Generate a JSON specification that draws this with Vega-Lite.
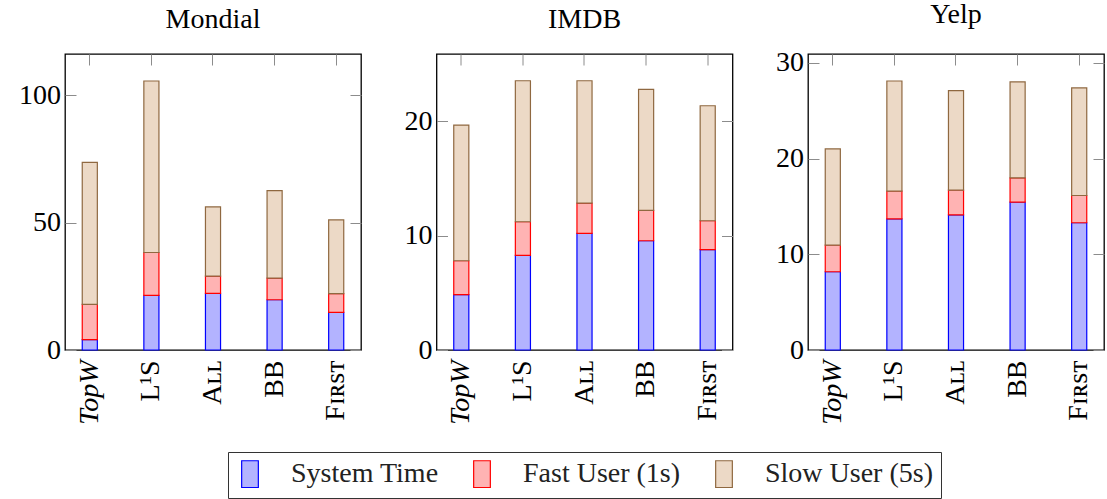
{
  "$schema": "https://vega.github.io/schema/vega-lite/v6.json",
  "padding": {"left": 17, "top": 0, "right": 2, "bottom": 0},
  "background": "white",
  "config": {
    "view": {"stroke": "black", "strokeWidth": 1.3},
    "font": "Liberation Serif",
    "axis": {"labelFont": "Liberation Serif", "labelFontSize": 28, "labelColor": "black", "title": null, "grid": false, "domain": false},
    "legend": {"labelFont": "Liberation Serif", "labelFontSize": 28, "labelColor": "#222", "labelLimit": 400}
  },
  "data": {"values": [
    {"db": "Mondial", "method": "TopW", "series": "System Time", "k": 1, "v": 4.05},
    {"db": "Mondial", "method": "TopW", "series": "Fast User (1s)", "k": 2, "v": 13.85},
    {"db": "Mondial", "method": "TopW", "series": "Slow User (5s)", "k": 3, "v": 55.7},
    {"db": "Mondial", "method": "L¹S", "series": "System Time", "k": 1, "v": 21.4},
    {"db": "Mondial", "method": "L¹S", "series": "Fast User (1s)", "k": 2, "v": 16.85},
    {"db": "Mondial", "method": "L¹S", "series": "Slow User (5s)", "k": 3, "v": 67.25},
    {"db": "Mondial", "method": "Aʟʟ", "series": "System Time", "k": 1, "v": 22.2},
    {"db": "Mondial", "method": "Aʟʟ", "series": "Fast User (1s)", "k": 2, "v": 6.8},
    {"db": "Mondial", "method": "Aʟʟ", "series": "Slow User (5s)", "k": 3, "v": 27.1},
    {"db": "Mondial", "method": "BB", "series": "System Time", "k": 1, "v": 19.7},
    {"db": "Mondial", "method": "BB", "series": "Fast User (1s)", "k": 2, "v": 8.5},
    {"db": "Mondial", "method": "BB", "series": "Slow User (5s)", "k": 3, "v": 34.3},
    {"db": "Mondial", "method": "Fɪʀsᴛ", "series": "System Time", "k": 1, "v": 14.75},
    {"db": "Mondial", "method": "Fɪʀsᴛ", "series": "Fast User (1s)", "k": 2, "v": 7.35},
    {"db": "Mondial", "method": "Fɪʀsᴛ", "series": "Slow User (5s)", "k": 3, "v": 28.9},
    {"db": "IMDB", "method": "TopW", "series": "System Time", "k": 1, "v": 4.84},
    {"db": "IMDB", "method": "TopW", "series": "Fast User (1s)", "k": 2, "v": 2.97},
    {"db": "IMDB", "method": "TopW", "series": "Slow User (5s)", "k": 3, "v": 11.87},
    {"db": "IMDB", "method": "L¹S", "series": "System Time", "k": 1, "v": 8.28},
    {"db": "IMDB", "method": "L¹S", "series": "Fast User (1s)", "k": 2, "v": 2.94},
    {"db": "IMDB", "method": "L¹S", "series": "Slow User (5s)", "k": 3, "v": 12.34},
    {"db": "IMDB", "method": "Aʟʟ", "series": "System Time", "k": 1, "v": 10.2},
    {"db": "IMDB", "method": "Aʟʟ", "series": "Fast User (1s)", "k": 2, "v": 2.66},
    {"db": "IMDB", "method": "Aʟʟ", "series": "Slow User (5s)", "k": 3, "v": 10.7},
    {"db": "IMDB", "method": "BB", "series": "System Time", "k": 1, "v": 9.56},
    {"db": "IMDB", "method": "BB", "series": "Fast User (1s)", "k": 2, "v": 2.66},
    {"db": "IMDB", "method": "BB", "series": "Slow User (5s)", "k": 3, "v": 10.58},
    {"db": "IMDB", "method": "Fɪʀsᴛ", "series": "System Time", "k": 1, "v": 8.78},
    {"db": "IMDB", "method": "Fɪʀsᴛ", "series": "Fast User (1s)", "k": 2, "v": 2.53},
    {"db": "IMDB", "method": "Fɪʀsᴛ", "series": "Slow User (5s)", "k": 3, "v": 10.06},
    {"db": "Yelp", "method": "TopW", "series": "System Time", "k": 1, "v": 8.18},
    {"db": "Yelp", "method": "TopW", "series": "Fast User (1s)", "k": 2, "v": 2.78},
    {"db": "Yelp", "method": "TopW", "series": "Slow User (5s)", "k": 3, "v": 10.06},
    {"db": "Yelp", "method": "L¹S", "series": "System Time", "k": 1, "v": 13.71},
    {"db": "Yelp", "method": "L¹S", "series": "Fast User (1s)", "k": 2, "v": 2.89},
    {"db": "Yelp", "method": "L¹S", "series": "Slow User (5s)", "k": 3, "v": 11.52},
    {"db": "Yelp", "method": "Aʟʟ", "series": "System Time", "k": 1, "v": 14.13},
    {"db": "Yelp", "method": "Aʟʟ", "series": "Fast User (1s)", "k": 2, "v": 2.58},
    {"db": "Yelp", "method": "Aʟʟ", "series": "Slow User (5s)", "k": 3, "v": 10.4},
    {"db": "Yelp", "method": "BB", "series": "System Time", "k": 1, "v": 15.45},
    {"db": "Yelp", "method": "BB", "series": "Fast User (1s)", "k": 2, "v": 2.55},
    {"db": "Yelp", "method": "BB", "series": "Slow User (5s)", "k": 3, "v": 10.02},
    {"db": "Yelp", "method": "Fɪʀsᴛ", "series": "System Time", "k": 1, "v": 13.3},
    {"db": "Yelp", "method": "Fɪʀsᴛ", "series": "Fast User (1s)", "k": 2, "v": 2.85},
    {"db": "Yelp", "method": "Fɪʀsᴛ", "series": "Slow User (5s)", "k": 3, "v": 11.24}
  ]},
  "hconcat": [
    {
      "title": {"text": "Mondial", "font": "Liberation Serif", "fontSize": 28, "fontWeight": "normal", "color": "black", "anchor": "middle", "frame": "group", "baseline": "alphabetic", "offset": -2.5},
      "width": 296, "height": 296,
      "transform": [{"filter": "datum.db === 'Mondial'"}],
      "resolve": {"axis": {"x": "independent", "y": "independent"}},
      "layer": [
        {
          "mark": {"type": "bar", "strokeWidth": 1.2},
          "encoding": {
            "x": {"field": "method", "type": "nominal", "sort": ["TopW", "L¹S", "Aʟʟ", "BB", "Fɪʀsᴛ"], "scale": {"paddingInner": 0.755, "paddingOuter": 0.28},
                  "axis": {"orient": "bottom", "ticks": false, "labelAngle": -90, "labelPadding": 10, "labelFontStyle": {"condition": {"test": "datum.value === 'TopW'", "value": "italic"}, "value": "normal"}}},
            "y": {"field": "v", "type": "quantitative", "stack": "zero", "scale": {"domain": [0, 116.1], "nice": false},
                  "axis": {"orient": "left", "values": [0, 50, 100], "tickSize": -11, "tickColor": "#8c8c8c", "tickWidth": 1, "labelPadding": 15.5}},
            "color": {"field": "series", "type": "nominal", "scale": {"domain": ["System Time", "Fast User (1s)", "Slow User (5s)"], "range": ["#b3b3ff", "#ffb3b3", "#ecd9c6"]},
                      "legend": {"orient": "none", "legendX": 163, "legendY": 398, "direction": "horizontal", "title": null, "strokeColor": "#333", "padding": 8, "columnPadding": 29, "labelOffset": 27, "symbolType": "M-0.625,-1H0.625V1H-0.625Z", "symbolSize": 713, "symbolStrokeWidth": 1.2}},
            "stroke": {"field": "series", "type": "nominal", "scale": {"domain": ["System Time", "Fast User (1s)", "Slow User (5s)"], "range": ["#0000ff", "#ff0000", "#8f6840"]}},
            "order": {"field": "k"}
          }
        },
        {
          "mark": {"type": "bar", "opacity": 0},
          "encoding": {
            "x": {"field": "method", "type": "nominal", "sort": ["TopW", "L¹S", "Aʟʟ", "BB", "Fɪʀsᴛ"],
                  "axis": {"orient": "top", "labels": false, "tickSize": -11, "tickColor": "#8c8c8c", "tickWidth": 1, "bandPosition": 0.5}},
            "y": {"field": "v", "type": "quantitative", "stack": "zero",
                  "axis": {"orient": "right", "labels": false, "values": [0, 50, 100], "tickSize": -11, "tickColor": "#8c8c8c", "tickWidth": 1}}
          }
        }
      ]
    },
    {
      "title": {"text": "IMDB", "font": "Liberation Serif", "fontSize": 28, "fontWeight": "normal", "color": "black", "anchor": "middle", "frame": "group", "baseline": "alphabetic", "offset": -2.5},
      "width": 296, "height": 296,
      "transform": [{"filter": "datum.db === 'IMDB'"}],
      "resolve": {"axis": {"x": "independent", "y": "independent"}},
      "layer": [
        {
          "mark": {"type": "bar", "strokeWidth": 1.2},
          "encoding": {
            "x": {"field": "method", "type": "nominal", "sort": ["TopW", "L¹S", "Aʟʟ", "BB", "Fɪʀsᴛ"], "scale": {"paddingInner": 0.755, "paddingOuter": 0.28},
                  "axis": {"orient": "bottom", "ticks": false, "labelAngle": -90, "labelPadding": 10, "labelFontStyle": {"condition": {"test": "datum.value === 'TopW'", "value": "italic"}, "value": "normal"}}},
            "y": {"field": "v", "type": "quantitative", "stack": "zero", "scale": {"domain": [0, 25.9], "nice": false},
                  "axis": {"orient": "left", "values": [0, 10, 20], "tickSize": -11, "tickColor": "#8c8c8c", "tickWidth": 1, "labelPadding": 15.5}},
            "color": {"field": "series", "type": "nominal"},
            "stroke": {"field": "series", "type": "nominal"},
            "order": {"field": "k"}
          }
        },
        {
          "mark": {"type": "bar", "opacity": 0},
          "encoding": {
            "x": {"field": "method", "type": "nominal", "sort": ["TopW", "L¹S", "Aʟʟ", "BB", "Fɪʀsᴛ"],
                  "axis": {"orient": "top", "labels": false, "tickSize": -11, "tickColor": "#8c8c8c", "tickWidth": 1, "bandPosition": 0.5}},
            "y": {"field": "v", "type": "quantitative", "stack": "zero",
                  "axis": {"orient": "right", "labels": false, "values": [0, 10, 20], "tickSize": -11, "tickColor": "#8c8c8c", "tickWidth": 1}}
          }
        }
      ]
    },
    {
      "title": {"text": "Yelp", "font": "Liberation Serif", "fontSize": 28, "fontWeight": "normal", "color": "black", "anchor": "middle", "frame": "group", "baseline": "alphabetic", "offset": -2.5},
      "width": 296, "height": 296,
      "transform": [{"filter": "datum.db === 'Yelp'"}],
      "resolve": {"axis": {"x": "independent", "y": "independent"}},
      "layer": [
        {
          "mark": {"type": "bar", "strokeWidth": 1.2},
          "encoding": {
            "x": {"field": "method", "type": "nominal", "sort": ["TopW", "L¹S", "Aʟʟ", "BB", "Fɪʀsᴛ"], "scale": {"paddingInner": 0.755, "paddingOuter": 0.28},
                  "axis": {"orient": "bottom", "ticks": false, "labelAngle": -90, "labelPadding": 10, "labelFontStyle": {"condition": {"test": "datum.value === 'TopW'", "value": "italic"}, "value": "normal"}}},
            "y": {"field": "v", "type": "quantitative", "stack": "zero", "scale": {"domain": [0, 30.94], "nice": false},
                  "axis": {"orient": "left", "values": [0, 10, 20, 30], "tickSize": -11, "tickColor": "#8c8c8c", "tickWidth": 1, "labelPadding": 15.5}},
            "color": {"field": "series", "type": "nominal"},
            "stroke": {"field": "series", "type": "nominal"},
            "order": {"field": "k"}
          }
        },
        {
          "mark": {"type": "bar", "opacity": 0},
          "encoding": {
            "x": {"field": "method", "type": "nominal", "sort": ["TopW", "L¹S", "Aʟʟ", "BB", "Fɪʀsᴛ"],
                  "axis": {"orient": "top", "labels": false, "tickSize": -11, "tickColor": "#8c8c8c", "tickWidth": 1, "bandPosition": 0.5}},
            "y": {"field": "v", "type": "quantitative", "stack": "zero",
                  "axis": {"orient": "right", "labels": false, "values": [0, 10, 20, 30], "tickSize": -11, "tickColor": "#8c8c8c", "tickWidth": 1}}
          }
        }
      ]
    }
  ],
  "spacing": 75.5,
  "bounds": "flush"
}
